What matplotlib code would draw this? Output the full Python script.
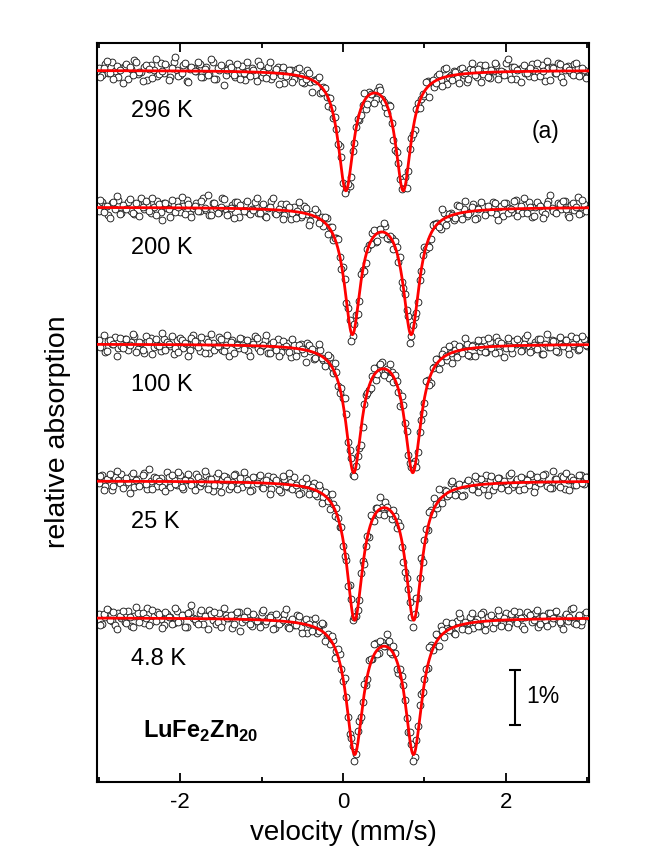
import numpy as np
import matplotlib
matplotlib.use('Agg')
import matplotlib.pyplot as plt

plt.rcParams['font.family'] = ['Liberation Sans', 'DejaVu Sans']
plt.rcParams['mathtext.fontset'] = 'custom'
plt.rcParams['mathtext.rm'] = 'Liberation Sans'
plt.rcParams['mathtext.bf'] = 'Liberation Sans:bold'

# velocity channels (mm/s): two interleaved channel sets
va_start, va_stop, na_channels = -3.0, 3.0, 151
vb_start, vb_stop, nb_channels = -2.98, 2.98, 150

temperatures = ['296 K', '200 K', '100 K', '25 K', '4.8 K']
offsets = [0.0, -2.5, -5.0, -7.5, -10.0]          # vertical stacking, %

# measured relative transmission, in units of 0.01 %  (channel set A)
spec_296 = [4, -9, 11, -4, 16, -1, -12, 5, 8, -15,
            2, 19, -7, -3, 7, -18, 10, 0, -10, 13,
            -5, 6, -13, 15, 1, -8, 9, -20, 3, 5,
            -2, 12, -12, 6, -7, 16, -15, 1, 7, -8,
            13, -5, -12, 2, 8, -18, -2, 4, -8, 18,
            -12, 0, 6, -16, -3, 7, -9, -23, -1, 1,
            -16, 2, -11, -23, 0, -22, -17, -16, -42, -30,
            -48, -50, -87, -107, -138, -206, -218, -211, -148, -104,
            -91, -63, -71, -40, -44, -53, -31, -53, -67, -64,
            -97, -145, -170, -217, -194, -183, -124, -109, -60, -52,
            -46, -19, -22, -31, -11, -18, 3, -24, -9, -1,
            -14, 3, -8, -21, 3, 0, -13, 9, -7, 2,
            -14, -1, 9, -8, -3, 13, -9, 7, -15, 2,
            5, -4, -11, 11, -1, -7, 9, -19, 4, 7,
            -4, 14, -12, 1, 8, -5, 11, 5, -8, 0,
            -13]
spec_200 = [-7, 9, 2, -15, 7, -3, 14, -10, 3, 10,
            -6, -13, 6, 17, -4, 5, -11, 1, 12, -8,
            8, -2, -17, 4, 11, -9, 2, 13, -12, -1,
            7, -7, 16, -5, -15, 8, -1, -9, 17, -4,
            -12, 4, 10, -18, 1, 6, -8, -4, 10, -11,
            3, -16, -2, 12, -11, -8, 6, -15, -1, -21,
            0, -6, -17, 3, -13, -25, -10, -8, -25, -34,
            -19, -37, -59, -57, -91, -109, -175, -206, -235, -196,
            -171, -114, -101, -69, -48, -63, -42, -49, -34, -58,
            -57, -62, -100, -137, -159, -199, -236, -201, -173, -117,
            -72, -70, -58, -30, -28, -39, -10, -20, -11, -24,
            4, -15, -3, -16, -8, 5, -20, 0, 3, -10,
            -6, 9, -13, 0, -16, 7, -1, -9, 14, -6,
            -11, 4, 9, -18, 1, 6, -7, -12, 12, -1,
            -9, 7, -4, 11, -14, 4, -5, 19, -10, 6,
            -4]
spec_100 = [8, -5, -14, 5, 0, 13, -8, -3, 10, -11,
            3, 15, -9, 2, -16, 6, 11, -6, -1, -13,
            9, 4, -4, -19, 7, 12, -7, 1, -10, 16,
            -2, -12, 5, 9, -16, 2, -5, 13, -10, -1,
            -22, 7, 1, -8, 10, -5, -13, 4, 15, -8,
            -3, 7, -17, 1, -9, 9, -14, -4, 2, -23,
            -1, -11, 1, -17, 2, -12, -27, -13, -11, -29,
            -29, -24, -52, -51, -89, -98, -128, -193, -239, -222,
            -190, -152, -93, -83, -59, -66, -40, -32, -51, -62,
            -51, -57, -87, -95, -144, -203, -224, -213, -197, -138,
            -108, -65, -71, -41, -28, -32, -11, -29, -17, 0,
            -24, -6, -12, 0, -21, -1, -6, -12, 7, -14,
            3, -8, 13, -14, -2, -8, 8, -17, 1, 6,
            -10, 12, -3, -11, 4, 10, -18, 1, -6, 8,
            5, -14, 0, 7, -7, 14, -4, -11, 4, 10,
            -3]
spec_25 = [-4, 11, -10, 4, -17, 7, 1, 12, -7, -2,
           9, -12, 3, -6, 14, -14, -1, 8, -9, 5,
           -3, 16, -11, 2, -8, 10, -15, 6, 0, -5,
           13, -10, -3, 11, 3, -19, 7, -8, 1, 8,
           -14, -2, 13, -7, -12, 5, 1, -16, 3, 8,
           -11, -5, 9, -14, 2, -3, -21, 4, -11, -2,
           8, -17, -22, -8, -3, -16, -4, -28, -15, -30,
           -23, -51, -43, -50, -84, -119, -145, -190, -254, -247,
           -217, -146, -119, -102, -65, -50, -60, -47, -38, -55,
           -69, -64, -75, -120, -167, -198, -249, -244, -214, -141,
           -108, -89, -54, -32, -49, -34, -16, -27, -4, -15,
           -24, -7, -26, -2, -6, -15, 5, -9, -15, 10,
           -1, -17, 1, 6, -9, -5, 10, -11, -1, -17,
           6, 3, -8, 9, -12, -2, 5, 12, -5, -13,
           4, -7, 9, -14, 2, 7, -8, 0, 11, -5,
           8]
spec_4p8 = [6, -11, 1, 14, -6, -13, 8, -1, -8, 12,
            -15, 4, 9, -4, -10, 17, -7, 3, 10, -2,
            -14, 7, 2, -9, 13, -5, 5, -16, 11, 0,
            -8, 8, -12, 3, 14, -4, -11, 9, -7, 5,
            0, -18, 6, 11, -8, -3, 7, -15, 2, -6,
            11, -12, -1, 5, -18, 1, -8, 6, -17, -6,
            -13, 5, -17, -7, -27, -4, -14, -27, -14, -12,
            -34, -48, -40, -61, -67, -116, -145, -213, -234, -248,
            -188, -154, -123, -78, -75, -47, -64, -45, -52, -42,
            -67, -64, -100, -106, -151, -208, -230, -254, -198, -139,
            -112, -92, -49, -53, -31, -15, -35, -18, -20, -28,
            -6, 1, -16, -10, 1, -19, -3, -15, 10, -9,
            2, -19, -3, 5, -10, 8, -12, 2, -4, 11,
            -15, 1, 6, -7, 9, -17, 4, -4, 8, -9,
            11, -2, -11, 4, -5, 16, -10, 1, -14, 7,
            3]

# measured relative transmission, in units of 0.01 %  (channel set B)
spec_296_b = [-12, 5, 18, -5, -16, 8, 1, -23, 12, 6,
              -9, 15, -3, -19, 9, 3, -14, 20, -7, -1,
              11, -17, 4, 24, -10, -4, 13, -21, 7, -2,
              16, -12, 2, -9, 20, -16, 4, 9, -26, 0,
              7, -8, 12, -15, -5, 15, -11, 1, -20, 9,
              -3, -14, 15, -11, 2, -25, 7, -10, 1, -22,
              -4, 5, -21, -15, -5, -40, -19, -12, -39, -33,
              -65, -68, -85, -134, -159, -224, -208, -194, -133, -88,
              -82, -42, -62, -43, -60, -38, -36, -58, -77, -65,
              -127, -150, -199, -204, -215, -143, -116, -70, -68, -43,
              -22, -49, -17, -23, -7, -28, 5, -12, -17, -3,
              -23, 5, -5, -16, 14, -9, 3, -21, 9, -13,
              1, 13, -15, -2, -9, 21, -16, 7, 1, -21,
              9, -4, 5, -13, 13, -10, -1, 17, -17, 4,
              -5, 11, -22, 7, 1, -8, 13, -11, 5, -14]
spec_200_b = [13, -8, 2, -20, 9, 20, -13, 4, -3, 15,
              -10, 7, -16, 0, 11, -6, 17, -14, 5, -23,
              8, -4, 14, -9, 1, 19, -12, 6, -18, 3,
              -7, 12, -2, 23, -15, 7, -11, 1, 15, -14,
              -2, -20, 9, 4, -6, 12, -13, -5, 16, -10,
              6, -18, 0, 17, -13, -4, -22, 6, 0, -10,
              -19, 9, -15, -2, -33, -13, -3, -29, -18, -17,
              -49, -37, -57, -58, -113, -131, -184, -245, -214, -195,
              -122, -116, -77, -67, -42, -62, -39, -29, -56, -53,
              -77, -72, -91, -147, -187, -248, -216, -194, -133, -87,
              -76, -72, -33, -31, -37, -4, -32, -12, -15, -19,
              2, -21, 12, -12, 1, -22, -4, 10, -15, 2,
              -8, 8, -23, 2, 7, -11, -4, 12, -16, 2,
              16, -11, 0, -16, 9, 3, -19, 6, 22, -6,
              -11, 6, 12, -3, -17, 8, 0, -13, 13, -7]
spec_100_b = [-6, 16, -13, 7, 1, -21, 12, -8, 9, -2,
              18, -15, 3, -10, 14, 5, -18, 10, -4, 21,
              -11, 0, 15, -7, -14, 8, 2, -22, 11, 6,
              -5, 13, -17, 4, 18, -10, -4, 9, -13, 16,
              4, -17, -2, 11, -9, 7, -22, 1, 12, -13,
              -2, 17, -16, 3, -10, -22, 6, -3, -14, 9,
              -21, -2, -9, -33, -2, -9, -25, 0, -25, -40,
              -20, -41, -35, -76, -81, -99, -179, -209, -241, -204,
              -184, -110, -89, -81, -43, -54, -37, -57, -46, -36,
              -69, -67, -113, -111, -159, -217, -219, -225, -161, -126,
              -68, -75, -44, -28, -46, -18, -22, -4, -34, -11,
              -3, -17, 12, -20, -4, -21, 7, -6, -14, 12,
              -7, -16, 6, 2, -23, 12, -8, 5, 9, -12,
              1, 16, -15, -1, -9, 9, -18, 18, -6, 5,
              -13, 13, -4, 8, -18, 1, 11, -9, 15, -2]
spec_25_b = [9, -17, 3, 12, -9, 18, -3, -13, 6, -22,
             14, 2, -10, 10, -6, 21, -15, 5, 0, -12,
             -19, 7, 11, -5, 16, -11, 1, 13, -8, -16,
             8, -2, 19, -14, 3, -8, 14, -21, 9, 1,
             -10, 11, -14, 5, 16, -5, -19, 7, -3, 11,
             -13, 1, -24, 7, 1, -16, 9, -10, 14, -15,
             -7, -24, -2, 5, -23, -11, -23, -7, -40, -20,
             -36, -23, -65, -67, -84, -137, -192, -215, -249, -236,
             -168, -151, -100, -63, -73, -49, -29, -62, -47, -59,
             -53, -86, -83, -148, -178, -222, -266, -214, -178, -148,
             -88, -57, -61, -42, -14, -40, -18, -24, -1, -25,
             -5, -28, -8, 2, -15, 9, -20, 3, -5, -26,
             9, -10, 6, -13, 0, -17, 15, -5, 4, 8,
             -14, 1, 13, -20, 7, -3, 11, -9, -13, 18,
             3, -11, 7, 15, -16, 1, -7, 11, -4, 8]
spec_4p8_b = [-14, 7, 16, -4, 10, -21, 4, 13, -10, 1,
              -17, 20, -7, 8, -1, -13, 14, -5, 6, -19,
              11, 2, -11, 18, -8, 5, -16, 9, 23, -3,
              -12, 15, 3, -20, 6, 11, -7, -16, 18, -1,
              5, -11, 10, -24, 1, 13, -11, 7, -6, -16,
              14, -5, 2, -21, 6, -12, -4, 16, -19, -2,
              -13, 4, -28, -2, -12, -25, 0, -25, -9, -43,
              -30, -33, -73, -57, -94, -110, -182, -220, -262, -207,
              -182, -121, -112, -75, -48, -66, -43, -51, -30, -63,
              -51, -94, -94, -122, -183, -208, -261, -224, -160, -136,
              -93, -53, -59, -30, -52, -23, -8, -23, -9, -30,
              8, -20, -7, -22, 8, -7, -15, 7, -22, 1,
              5, -8, 15, -15, 0, -17, 6, 12, -9, -1,
              -20, 10, 5, -4, 14, -12, 3, -15, 9, -1,
              12, -8, -21, 7, 2, 17, -12, 5, -5, 11]

spectra_a = [spec_296, spec_200, spec_100, spec_25, spec_4p8]
spectra_b = [spec_296_b, spec_200_b, spec_100_b, spec_25_b, spec_4p8_b]

# fitted quadrupole doublet (Lorentzian lines)
line1_pos = [0.035, 0.115, 0.131, 0.143, 0.143]   # mm/s
line2_pos = [0.740, 0.837, 0.857, 0.869, 0.866]   # mm/s
line_depth = [2.145, 2.268, 2.29, 2.48, 2.43]     # %
line_hwhm = [0.115, 0.12, 0.12, 0.12, 0.125]      # mm/s

fig = plt.figure(figsize=(6.54, 8.55), dpi=100)
ax = fig.add_axes([0.1483, 0.0854, 0.7523, 0.8643])

vel_a = np.linspace(va_start, va_stop, na_channels)
vel_b = np.linspace(vb_start, vb_stop, nb_channels)
vfit = np.linspace(-3.2, 3.2, 1600)

marker_style = dict(linestyle='none', marker='o', markersize=4.9,
                    markerfacecolor='white', markeredgecolor='#1a1a1a',
                    markeredgewidth=0.65, zorder=2)

for k in range(len(temperatures)):
    ya = np.asarray(spectra_a[k], dtype=float) / 100.0 + offsets[k]
    yb = np.asarray(spectra_b[k], dtype=float) / 100.0 + offsets[k]
    ax.plot(vel_a, ya, **marker_style)
    ax.plot(vel_b, yb, **marker_style)
    g2 = line_hwhm[k] ** 2
    fit = offsets[k] - line_depth[k] * (g2 / ((vfit - line1_pos[k]) ** 2 + g2)
                                        + g2 / ((vfit - line2_pos[k]) ** 2 + g2))
    ax.plot(vfit, fit, color='#ff0000', linewidth=2.0, zorder=3)
    ax.text(-2.6, offsets[k] - 0.86, temperatures[k], fontsize=17,
            ha='left', va='baseline')

ax.set_xlim(-3.02, 3.02)
ax.set_ylim(-13.0, 0.5)
ax.set_xticks([-2, 0, 2])
ax.set_xticklabels(['-2', '0', '2'])
ax.set_xticks([-3, -1, 1, 3], minor=True)
ax.set_yticks([])
ax.tick_params(axis='x', which='both', direction='in', top=True, bottom=True,
               width=1.3, labelsize=16, pad=7)
ax.tick_params(axis='x', which='major', length=6.5)
ax.tick_params(axis='x', which='minor', length=3.6)
for s in ax.spines.values():
    s.set_linewidth(1.5)

ax.set_xlabel('velocity (mm/s)', fontsize=20, labelpad=5)
ax.set_ylabel('relative absorption', fontsize=20.5, va='center')
ax.yaxis.set_label_coords(-0.079, 0.474)

# panel label, 1 % scale bar and compound name
ax.text(2.49, -1.12, '(a)', fontsize=16.5, ha='center', va='center')
ax.errorbar(2.11, -11.46, yerr=0.5, fmt='none', ecolor='black',
            elinewidth=1.5, capsize=4.5, capthick=1.5)
ax.text(2.25, -11.55, '1%', fontsize=16.5, ha='left', va='baseline')
ax.text(-2.46, -12.19, r'$\mathbf{LuFe}_{\mathbf{2}}\mathbf{Zn}_{\mathbf{20}}$',
        fontsize=17, ha='left', va='baseline')

fig.savefig('out.png', dpi=100)
